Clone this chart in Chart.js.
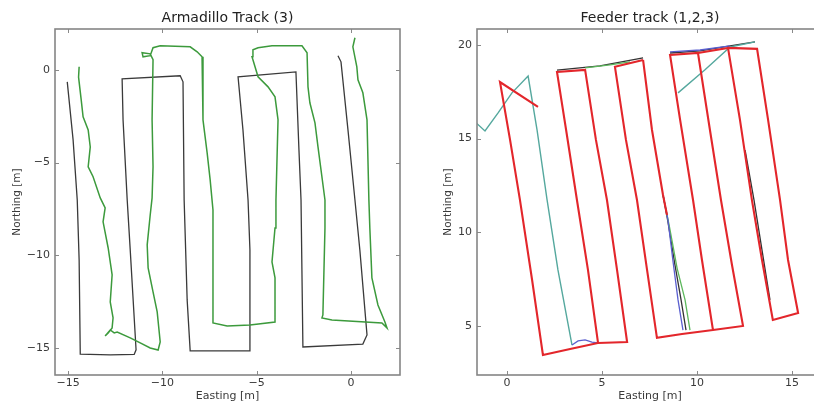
<!DOCTYPE html>
<html><head><meta charset="utf-8">
<script src="https://cdn.jsdelivr.net/npm/chart.js@4"></script>
<style>
html,body{margin:0;padding:0;overflow:hidden;background:#fff;width:814px;height:404px;position:relative;}
#c1{position:absolute;left:0;top:0;}
#c2{position:absolute;left:410px;top:0;}
</style></head><body>
<canvas id="c1" width="410" height="404"></canvas>
<canvas id="c2" width="430" height="404"></canvas>
<script>
// ---------- data ----------
const armadilloTitle = 'Armadillo Track (3)';
const feederTitle = 'Feeder track (1,2,3)';
const xAxisLabel = 'Easting [m]';
const yAxisLabel = 'Northing [m]';

const armadilloXTicks = [-15, -10, -5, 0];
const armadilloYTicks = [-15, -10, -5, 0];
const feederXTicks = [0, 5, 10, 15];
const feederYTicks = [5, 10, 15, 20];

// Armadillo: planned (black) path, [easting, northing]
const armadilloPlanned = [[-15.05,-0.65],[-14.74,-3.78],[-14.52,-7.02],[-14.42,-10.25],[-14.36,-15.33],[-12.77,-15.38],[-11.5,-15.35],[-11.4,-15.1],[-11.71,-9.71],[-11.87,-7.02],[-12.09,-2.70],[-12.14,-0.49],[-9.06,-0.32],[-8.91,-0.65],[-8.85,-7.02],[-8.69,-12.41],[-8.53,-15.16],[-5.36,-15.16],[-5.36,-9.71],[-5.46,-7.02],[-5.73,-3.24],[-5.99,-0.38],[-2.92,-0.11],[-2.76,-4.32],[-2.65,-7.02],[-2.55,-14.95],[0.63,-14.79],[0.85,-14.30],[0.47,-9.71],[0.21,-7.02],[-0.16,-3.24],[-0.53,0.43],[-0.69,0.76]];

// Armadillo: driven (green) track
const armadilloDriven = [[-14.42,0.16],[-14.45,-0.4],[-14.31,-1.62],[-14.21,-2.54],[-13.94,-3.24],[-13.83,-4.16],[-13.94,-5.23],[-13.68,-5.77],[-13.30,-6.91],[-13.04,-7.45],[-13.15,-8.20],[-12.88,-9.61],[-12.67,-11.06],[-12.77,-12.52],[-12.62,-13.38],[-12.67,-13.92],[-12.88,-14.19],[-13.04,-14.35],[-12.77,-14.03],[-12.56,-14.19],[-12.40,-14.14],[-11.71,-14.46],[-11.18,-14.73],[-10.65,-15.00],[-10.23,-15.11],[-10.12,-14.68],[-10.28,-13.06],[-10.50,-11.98],[-10.76,-10.69],[-10.81,-9.44],[-10.65,-7.83],[-10.55,-6.91],[-10.50,-5.23],[-10.55,-2.70],[-10.50,0.54],[-10.65,0.86],[-11.08,0.92],[-11.03,0.70],[-10.65,0.76],[-10.50,1.19],[-10.12,1.30],[-8.53,1.24],[-8.16,0.97],[-7.90,0.70],[-7.85,-2.70],[-7.63,-4.48],[-7.47,-5.94],[-7.32,-7.56],[-7.32,-10.25],[-7.32,-13.65],[-6.57,-13.82],[-5.36,-13.76],[-4.03,-13.60],[-4.03,-11.22],[-4.19,-10.36],[-4.03,-8.53],[-3.98,-7.02],[-3.87,-2.70],[-4.03,-1.46],[-4.40,-0.92],[-4.93,-0.38],[-5.25,0.70],[-5.20,1.08],[-4.93,1.19],[-4.19,1.30],[-2.60,1.30],[-2.33,0.92],[-2.28,-0.92],[-2.18,-1.78],[-1.91,-2.86],[-1.75,-4.16],[-1.38,-7.02],[-1.38,-8.53],[-1.49,-13.22],[-1.54,-13.38],[-1.01,-13.49],[1.64,-13.65],[1.91,-13.92],[1.80,-13.60],[1.43,-12.68],[1.11,-11.22],[1.00,-8.53],[0.95,-7.02],[0.85,-2.70],[0.63,-1.24],[0.37,-0.54],[0.31,0.16],[0.10,1.24],[0.21,1.73]];

// Feeder: red track pieces
const feederRed = [
  [[1.63,16.69],[-0.37,18.02],[0.16,14.93],[0.68,11.73],[1.32,7.45],[1.89,3.45],[3.32,3.77],[4.79,4.09],[4.26,7.99],[3.68,11.72],[3.11,15.46],[2.63,18.56],[4.11,18.67],[4.68,14.93],[5.26,11.72],[5.79,7.99],[6.32,4.14],[4.79,4.09]],
  [[7.16,19.20],[5.68,18.83],[6.26,14.93],[6.84,11.72],[7.37,7.99],[7.89,4.36],[9.21,4.57],[10.84,4.78],[12.42,5.00],[11.84,8.25],[11.26,11.72],[10.68,15.46],[10.05,19.57],[8.58,19.47],[9.11,16.00],[9.79,11.72],[10.26,8.52],[10.84,4.78]],
  [[10.05,19.57],[11.63,19.84],[12.26,16.00],[12.89,11.72],[13.42,8.52],[13.99,5.32],[15.32,5.69],[14.79,8.52],[14.37,11.72],[13.74,16.00],[13.16,19.79],[11.63,19.84]],
  [[7.16,19.20],[7.63,15.46],[8.21,11.99],[8.42,10.92]]
];
// Feeder: black track pieces (visible where they leave the red one)
const feederBlack = [
  [[2.63,18.66],[4.89,18.88],[7.16,19.31]],
  [[8.58,19.57],[10.16,19.68],[11.74,19.95],[13.05,20.16]],
  [[12.53,14.39],[13.0,11.72],[13.42,9.05],[13.84,6.39]],
  [[8.21,11.99],[8.47,10.55],[8.84,8.25],[9.16,6.39],[9.42,4.78]]
];
// Feeder: cyan track pieces
const feederCyan = [
  [[-1.68,15.89],[-1.16,15.41],[-0.47,16.37],[0.26,17.44],[1.11,18.34],[1.58,15.46],[2.11,11.72],[2.68,7.99],[3.42,3.98]],
  [[9.0,17.44],[10.42,18.67],[11.74,19.89],[13.05,20.16]]
];
// Feeder: blue track pieces
const feederBlue = [
  [[3.42,3.98],[3.74,4.20],[4.11,4.25],[4.47,4.14],[4.79,4.09]],
  [[8.58,19.63],[10.16,19.73],[11.74,19.95]],
  [[8.21,11.99],[8.47,10.66],[8.74,8.41],[9.00,6.39],[9.26,4.78]]
];
// Feeder: green track pieces
const feederGreen = [
  [[8.21,11.99],[8.53,10.39],[8.95,8.09],[9.37,6.39],[9.63,4.78]],
  [[4.11,18.77],[5.42,18.93],[6.47,19.09]]
];

// ---------- drawing ----------
const FONT = 'DejaVu Sans';
const fmt = v => (v < 0 ? '\u2212' + Math.abs(v) : String(v));
const pts = arr => arr.map(p => ({x: p[0], y: p[1]}));

const frameTicks = {
  id: 'frameTicks',
  afterDraw(chart) {
    const {ctx, chartArea: {left, right, top, bottom}, scales: {x, y}} = chart;
    ctx.save();
    ctx.strokeStyle = '#8a8a8a';
    ctx.lineWidth = 1;
    const L = 4;
    ctx.beginPath();
    x.ticks.forEach(t => {
      const p = Math.round(x.getPixelForValue(t.value)) + 0.5;
      ctx.moveTo(p, bottom); ctx.lineTo(p, bottom - L);
      ctx.moveTo(p, top); ctx.lineTo(p, top + L);
    });
    y.ticks.forEach(t => {
      const p = Math.round(y.getPixelForValue(t.value)) + 0.5;
      ctx.moveTo(left, p); ctx.lineTo(left + L, p);
      ctx.moveTo(right, p); ctx.lineTo(right - L, p);
    });
    ctx.stroke();
    ctx.lineWidth = 1.6;
    ctx.strokeStyle = '#858585';
    ctx.strokeRect(left, top, right - left, bottom - top);
    ctx.restore();
  }
};

function makeScales(xr, yr, xt, yt, yWidth, yTitlePad) {
  return {
    x: {
      type: 'linear', min: xr[0], max: xr[1],
      afterBuildTicks: s => { s.ticks = xt.map(v => ({value: v})); },
      afterFit: s => { s.height = 29; },
      grid: {display: false, drawTicks: false}, border: {display: false},
      ticks: {padding: 2, autoSkip: false, maxRotation: 0, color: '#3a3a3a', font: {family: FONT, size: 11}, callback: v => fmt(v)},
      title: {display: true, text: xAxisLabel, color: '#3a3a3a', font: {family: FONT, size: 11}, padding: {top: 0, bottom: 1}}
    },
    y: {
      type: 'linear', min: yr[0], max: yr[1],
      afterBuildTicks: s => { s.ticks = yt.map(v => ({value: v})); },
      afterFit: s => { s.width = yWidth; },
      grid: {display: false, drawTicks: false}, border: {display: false},
      ticks: {padding: 5, autoSkip: false, color: '#3a3a3a', font: {family: FONT, size: 11}, callback: v => fmt(v)},
      title: {display: true, text: yAxisLabel, color: '#3a3a3a', font: {family: FONT, size: 10.5}, padding: {top: yTitlePad, bottom: 0}}
    }
  };
}

function line(data, color, width, order) {
  return {data: pts(data), showLine: true, borderColor: color, backgroundColor: color,
          borderWidth: width, pointRadius: 0, fill: false, tension: 0, order: order};
}

function baseOptions(title, scales, padRight) {
  return {
    responsive: false, animation: false, events: [],
    layout: {padding: {left: 0, right: padRight, top: 0, bottom: 0}},
    plugins: {
      legend: {display: false}, tooltip: {enabled: false},
      title: {display: true, text: title, fullSize: false, color: '#222',
              font: {family: FONT, size: 14, weight: 'normal'}, padding: {top: 10, bottom: 2.2}}
    },
    scales: scales
  };
}

new Chart(document.getElementById('c1'), {
  type: 'scatter',
  data: {datasets: [
    line(armadilloDriven, '#3c9a3c', 1.5, 0),
    line(armadilloPlanned, '#3a3a3a', 1.3, 1)
  ]},
  options: baseOptions(armadilloTitle,
    makeScales([-15.7, 2.6], [-16.46, 2.2], armadilloXTicks, armadilloYTicks, 55, 10.5), 10),
  plugins: [frameTicks]
});

const feederSets = [];
feederRed.forEach(s => feederSets.push(line(s, '#e3262b', 2.1, 0)));
feederBlue.forEach(s => feederSets.push(line(s, '#5a5fcf', 1.3, 1)));
feederGreen.forEach(s => feederSets.push(line(s, '#5cb85c', 1.3, 2)));
feederCyan.forEach(s => feederSets.push(line(s, '#55a89e', 1.4, 3)));
feederBlack.forEach(s => feederSets.push(line(s, '#333333', 1.3, 4)));

new Chart(document.getElementById('c2'), {
  type: 'scatter',
  data: {datasets: feederSets},
  options: baseOptions(feederTitle,
    makeScales([-1.58, 16.63], [2.38, 20.85], feederXTicks, feederYTicks, 67, 31.5), 17),
  plugins: [frameTicks]
});
</script>
</body></html>
